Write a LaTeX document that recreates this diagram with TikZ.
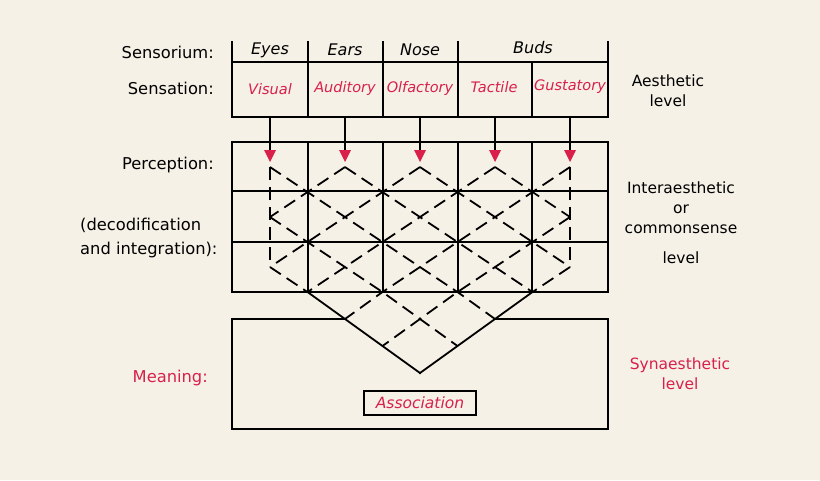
\documentclass[tikz,border=0pt]{standalone}
\usepackage{fontspec}
\setmainfont{DejaVu Sans}
\begin{document}
\begin{tikzpicture}[x=1pt,y=-1pt,
  ln/.style={line width=1.8pt,line cap=rect},
  dl/.style={line width=1.8pt,dash pattern=on 13pt off 7pt},
  lbl/.style={font=\fontsize{16.3}{19}\selectfont,inner sep=0pt},
  hd/.style={font=\fontsize{16}{19}\selectfont\itshape,inner sep=0pt},
  rd/.style={font=\fontsize{14.5}{17}\selectfont\itshape,text=myred,inner sep=0pt},
  lv/.style={font=\fontsize{15.5}{18}\selectfont,align=center,inner sep=0pt}]
\definecolor{bg}{HTML}{F5F1E6}
\definecolor{myred}{HTML}{D8204A}
\fill[bg] (0,0) rectangle (820,480);
\useasboundingbox (0,0) rectangle (820,480);
% lattice coordinates
\foreach \i in {0,...,8}{
  \foreach \j in {0,...,5}{\coordinate (p\i-\j) at ({270+37.5*\i},{167+25*\j});}
  \foreach \j in {6,7,8}{\coordinate (p\i-\j) at ({270+37.5*\i},{292+27*(\j-5)});}
}
\coordinate (bl) at (232,319);
\coordinate (br) at (608,319);
% top table
\draw[ln] (232,42) -- (232,117) -- (608,117) -- (608,42);
\foreach \x in {308,383,458}{\draw[ln] (\x,42) -- (\x,117);}
\draw[ln] (532,62) -- (532,117);
\draw[ln] (232,62) -- (608,62);
\node[hd] (eyes) at (270,50) {Eyes};
\node[hd] (ears) at (345,50) {Ears};
\node[hd] (nose) at (420,50) {Nose};
\node[hd] (buds) at (533,48) {Buds};
\node[rd] (vis) at (270,89) {Visual};
\node[rd] (aud) at (345,88) {Auditory};
\node[rd] (olf) at (420,88) {Olfactory};
\node[rd] (tac) at (494,87) {Tactile};
\node[rd] (gus) at (570,87) {Gustatory};
% grid
\draw[ln] (232,142) rectangle (608,292);
\draw[ln] (232,191) -- (608,191);
\draw[ln] (232,242) -- (608,242);
\foreach \x in {308,383,458,532}{\draw[ln] (\x,142) -- (\x,292);}
% arrows
\foreach \k in {0,2,4,6,8}{
  \coordinate (a\k) at ({270+37.5*\k},117);
  \draw[line width=1.8pt] (a\k) -- ([yshift=15pt]p\k-0);
  \fill[myred] ([xshift=-6pt,yshift=17pt]p\k-0) -- ([xshift=6pt,yshift=17pt]p\k-0) -- ([yshift=5pt]p\k-0) -- cycle;
}
% meaning box
\draw[ln] (p2-6) -- (bl) -- (232,429) -- (608,429) -- (br) -- (p6-6);
\node[draw,line width=1.6pt,minimum width=112pt,minimum height=24pt,inner sep=0pt] (assoc) at (420,403) {};
\node[rd,font=\fontsize{15.5}{18}\selectfont\itshape] at (assoc) {Association};
% lattice
\draw[dl] (p6-0) -- (p8-2);
\draw[dl] (p4-0) -- (p8-4);
\draw[dl] (p2-0) -- (p7-5);
\draw[dl] (p0-0) -- (p5-5) -- (p6-6);
\draw[dl] (p0-2) -- (p3-5) -- (p5-7);
\draw[dl] (p0-4) -- (p1-5);
\draw[ln] (p1-5) -- (p4-8);
\draw[dl] (p2-0) -- (p0-2);
\draw[dl] (p4-0) -- (p0-4);
\draw[dl] (p6-0) -- (p1-5);
\draw[dl] (p8-0) -- (p3-5) -- (p2-6);
\draw[dl] (p8-2) -- (p5-5) -- (p3-7);
\draw[dl] (p8-4) -- (p7-5);
\draw[ln] (p7-5) -- (p4-8);
\draw[dl] (p0-0) -- (p0-4);
\draw[dl] (p8-0) -- (p8-4);
% left labels
\node[lbl,anchor=east] (l1) at (214,52) {Sensorium:};
\node[lbl,anchor=east] (l2) at (214,88) {Sensation:};
\node[lbl,anchor=east] (l3) at (214,165) {Perception:};
\node[lbl,anchor=west] (l4) at (80,225) {(decodification};
\node[lbl,anchor=west] (l5) at (80,250) {and integration):};
\node[lbl,anchor=east,text=myred] (l6) at (208,378) {Meaning:};
% right labels
\node[lv] (r1) at (668,91) {Aesthetic\\[2pt]level};
\node[lv] (r2) at (681,208) {Interaesthetic\\[2pt]or\\[2pt]commonsense};
\node[lv] (r3) at (681,258) {level};
\node[lv,text=myred] (r4) at (680,374) {Synaesthetic\\[2pt]level};
\end{tikzpicture}
\end{document}
